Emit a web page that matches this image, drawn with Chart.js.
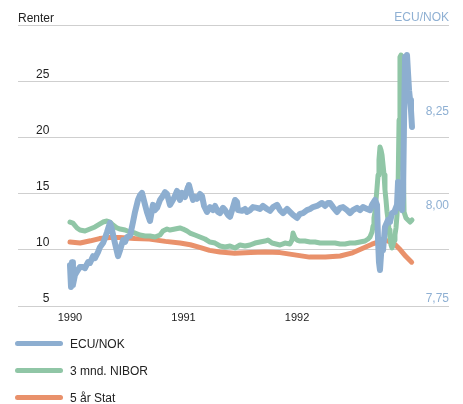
<!DOCTYPE html>
<html>
<head>
    <meta charset="utf-8">
    <title>Renter og ECU/NOK</title>
    <script src="https://cdn.jsdelivr.net/npm/chart.js@4.4.1/dist/chart.umd.min.js"></script>
    <style>
        body { margin: 0; background: #fff; font-family: 'Liberation Sans', Arial, sans-serif; }
        #wrap { position: relative; width: 463px; height: 404px; }
        #chart { position: absolute; left: 0; top: 0; }
        .axisTitle { position: absolute; font-size: 12px; line-height: 14px; }
        #leftTitle { left: 18px; top: 11px; color: #222; }
        #rightTitle { right: 14px; top: 10px; color: #8fb0d3; }
        #legend { position: absolute; left: 15px; top: 330px; }
        .item { height: 27px; display: flex; align-items: center; font-size: 12px; color: #222; }
        .swatch { width: 48px; height: 5px; border-radius: 3px; margin-right: 7px; }
    </style>
</head>
<body>
<div id="wrap">
    <canvas id="chart" width="463" height="404"></canvas>
    <div class="axisTitle" id="leftTitle">Renter</div>
    <div class="axisTitle" id="rightTitle">ECU/NOK</div>
    <div id="legend"></div>
</div>
<script>
    // tick labels
    const yearTicks = [1990, 1991, 1992];
    const rateTicks = [5, 10, 15, 20, 25, 30];
    const ecuTicks = [7.75, 8.00, 8.25, 8.50];

    // ECU/NOK (right axis), x in decimal years
    const ecuYears = [
        1990.000, 1990.009, 1990.018, 1990.026, 1990.044, 1990.070, 1990.088, 1990.115, 1990.132, 1990.159,
        1990.176, 1990.203, 1990.220, 1990.247, 1990.264, 1990.291, 1990.308, 1990.326, 1990.352, 1990.370,
        1990.396, 1990.423, 1990.441, 1990.467, 1990.485, 1990.502, 1990.529, 1990.555, 1990.573, 1990.599,
        1990.617, 1990.634, 1990.661, 1990.678, 1990.705, 1990.731, 1990.749, 1990.767, 1990.793, 1990.819,
        1990.837, 1990.855, 1990.881, 1990.907, 1990.925, 1990.943, 1990.969, 1990.987, 1991.013, 1991.040,
        1991.048, 1991.066, 1991.084, 1991.101, 1991.119, 1991.145, 1991.163, 1991.181, 1991.207, 1991.233,
        1991.260, 1991.278, 1991.304, 1991.322, 1991.348, 1991.366, 1991.392, 1991.410, 1991.436, 1991.454,
        1991.471, 1991.480, 1991.515, 1991.542, 1991.559, 1991.586, 1991.612, 1991.648, 1991.674, 1991.700,
        1991.736, 1991.762, 1991.789, 1991.824, 1991.850, 1991.877, 1991.912, 1991.938, 1991.965, 1992.000,
        1992.026, 1992.053, 1992.088, 1992.115, 1992.141, 1992.176, 1992.203, 1992.220, 1992.247, 1992.273,
        1992.291, 1992.317, 1992.352, 1992.379, 1992.405, 1992.441, 1992.467, 1992.493, 1992.529, 1992.555,
        1992.581, 1992.617, 1992.643, 1992.661, 1992.687, 1992.705, 1992.714, 1992.722, 1992.731, 1992.740,
        1992.749, 1992.758, 1992.775, 1992.802, 1992.819, 1992.837, 1992.855, 1992.863, 1992.881, 1992.890,
        1992.899, 1992.907, 1992.925, 1992.934, 1992.943, 1992.952, 1992.960, 1992.969, 1992.978, 1992.987,
        1992.996, 1993.004, 1993.013
    ];
    const ecuValues = [
        7.859, 7.801, 7.867, 7.806, 7.833, 7.846, 7.854, 7.854, 7.851, 7.867,
        7.865, 7.883, 7.878, 7.894, 7.907, 7.918, 7.931, 7.947, 7.972, 7.953,
        7.918, 7.883, 7.899, 7.926, 7.921, 7.934, 7.937, 7.974, 8.001, 8.033,
        8.046, 8.052, 8.020, 8.001, 7.977, 8.020, 8.006, 8.012, 8.033, 8.044,
        8.054, 8.049, 8.020, 8.033, 8.044, 8.057, 8.033, 8.052, 8.041, 8.068,
        8.073, 8.052, 8.033, 8.041, 8.036, 8.049, 8.044, 8.017, 8.001, 8.014,
        8.006, 8.017, 8.001, 7.998, 8.012, 8.006, 7.993, 7.988, 8.014, 8.033,
        8.028, 8.006, 8.004, 8.009, 8.001, 8.006, 8.014, 8.012, 8.009, 8.017,
        8.009, 8.004, 8.014, 8.020, 8.006, 7.998, 8.009, 8.001, 7.993, 7.985,
        7.996, 7.998, 8.006, 8.009, 8.014, 8.017, 8.022, 8.025, 8.017, 8.025,
        8.025, 8.014, 8.001, 8.012, 8.014, 8.006, 7.998, 8.006, 8.012, 8.006,
        8.014, 8.009, 8.006, 8.020, 8.033, 8.020, 7.926, 7.867, 7.846, 7.886,
        7.926, 7.899, 7.961, 7.980, 7.974, 7.998, 8.001, 8.006, 8.020, 8.081,
        8.012, 8.033, 8.006, 8.044, 8.246, 8.415, 8.380, 8.420, 8.372, 8.326,
        8.300, 8.273, 8.228
    ];

    // 3 mnd. NIBOR (left axis)
    const niborYears = [
        1990.000, 1990.026, 1990.062, 1990.088, 1990.132, 1990.176, 1990.220, 1990.264, 1990.291, 1990.326,
        1990.352, 1990.379, 1990.414, 1990.441, 1990.485, 1990.529, 1990.573, 1990.617, 1990.661, 1990.705,
        1990.749, 1990.793, 1990.819, 1990.855, 1990.881, 1990.925, 1990.969, 1990.996, 1991.031, 1991.057,
        1991.101, 1991.145, 1991.189, 1991.233, 1991.278, 1991.322, 1991.366, 1991.410, 1991.454, 1991.498,
        1991.542, 1991.586, 1991.630, 1991.674, 1991.718, 1991.744, 1991.780, 1991.815, 1991.850, 1991.894,
        1991.938, 1991.956, 1991.965, 1991.982, 1992.000, 1992.026, 1992.070, 1992.115, 1992.159, 1992.203,
        1992.247, 1992.291, 1992.335, 1992.379, 1992.423, 1992.467, 1992.511, 1992.555, 1992.599, 1992.626,
        1992.643, 1992.661, 1992.670, 1992.678, 1992.687, 1992.696, 1992.705, 1992.714, 1992.722, 1992.731,
        1992.740, 1992.749, 1992.758, 1992.767, 1992.775, 1992.784, 1992.793, 1992.802, 1992.811, 1992.819,
        1992.828, 1992.837, 1992.846, 1992.855, 1992.863, 1992.872, 1992.881, 1992.890, 1992.899, 1992.907,
        1992.916, 1992.925, 1992.934, 1992.943, 1992.960, 1992.978, 1992.996, 1993.013
    ];
    const niborValues = [
        12.47, 12.38, 11.94, 11.76, 11.67, 11.85, 12.03, 12.30, 12.47, 12.56,
        12.47, 12.21, 11.94, 11.85, 11.76, 11.58, 11.49, 11.32, 11.23, 11.23,
        11.14, 11.32, 11.67, 11.85, 11.76, 11.85, 11.94, 11.85, 11.67, 11.49,
        11.32, 11.14, 10.96, 10.69, 10.60, 10.34, 10.25, 10.34, 10.16, 10.43,
        10.34, 10.43, 10.60, 10.69, 10.78, 10.87, 10.60, 10.52, 10.43, 10.60,
        10.52, 10.87, 11.49, 11.05, 10.87, 10.78, 10.78, 10.69, 10.69, 10.60,
        10.60, 10.60, 10.60, 10.52, 10.52, 10.60, 10.60, 10.69, 10.78, 10.96,
        11.14, 11.58, 12.12, 12.83, 13.36, 14.43, 15.50, 16.65, 17.99, 19.15,
        18.88, 18.43, 17.54, 16.65, 15.32, 14.43, 13.36, 12.65, 11.76, 11.05,
        10.43, 10.16, 10.43, 10.87, 11.32, 11.94, 13.10, 15.32, 21.55, 27.15,
        27.33, 26.71, 18.88, 13.36, 12.83, 12.65, 12.47, 12.65
    ];

    // 5 år Stat (left axis)
    const statYears = [
        1990.00, 1990.09, 1990.18, 1990.26, 1990.35, 1990.44, 1990.57, 1990.70, 1990.84, 1990.97,
        1991.06, 1991.15, 1991.23, 1991.32, 1991.45, 1991.59, 1991.72, 1991.85, 1991.98, 1992.11,
        1992.25, 1992.38, 1992.48, 1992.57, 1992.66, 1992.73, 1992.78, 1992.85, 1992.91, 1992.96,
        1993.01
    ];
    const statValues = [
        10.7, 10.6, 10.8, 11.0, 11.1, 11.1, 11.0, 10.95, 10.75, 10.6,
        10.45, 10.2, 9.95, 9.8, 9.7, 9.75, 9.8, 9.75, 9.55, 9.35,
        9.35, 9.45, 9.7, 10.1, 10.5, 10.75, 10.85, 10.6, 10.0, 9.4,
        8.9
    ];

    const toPoints = (xs, ys) => xs.map((x, i) => ({ x: x, y: ys[i] }));

    const datasets = [
        { label: 'ECU/NOK', data: toPoints(ecuYears, ecuValues), borderColor: '#8daed0', borderWidth: 6, yAxisID: 'y1' },
        { label: '3 mnd. NIBOR', data: toPoints(niborYears, niborValues), borderColor: '#90c6a6', borderWidth: 5, yAxisID: 'y' },
        { label: '5 år Stat', data: toPoints(statYears, statValues), borderColor: '#e9916b', borderWidth: 5, yAxisID: 'y' }
    ];

    const font = 'Liberation Sans, Arial, sans-serif';
    const flatAxis = (s) => { s.width = 0; s.paddingTop = 0; s.paddingBottom = 0; };

    const chart = new Chart(document.getElementById('chart'), {
        type: 'line',
        data: { datasets: datasets },
        options: {
            responsive: false,
            animation: false,
            layout: { padding: { left: 18, right: 14, top: 25, bottom: 78 } },
            elements: {
                point: { radius: 0 },
                line: { tension: 0, borderCapStyle: 'round', borderJoinStyle: 'round' }
            },
            plugins: { legend: { display: false }, tooltip: { enabled: false } },
            scales: {
                x: {
                    type: 'linear',
                    min: 1989.542,
                    max: 1993.339,
                    grid: { display: false, drawTicks: false },
                    border: { display: false },
                    afterBuildTicks: (s) => { s.ticks = yearTicks.map(v => ({ value: v })); },
                    afterFit: (s) => { s.height = 20; s.paddingLeft = 0; s.paddingRight = 0; },
                    ticks: {
                        padding: 5, maxRotation: 0, autoSkip: false, color: '#222',
                        font: { family: font, size: 11 },
                        callback: (v) => String(v)
                    }
                },
                y: {
                    position: 'left',
                    min: 5,
                    max: 30,
                    grid: { color: '#cfcfcf', lineWidth: 1, drawTicks: false },
                    border: { display: false },
                    afterBuildTicks: (s) => { s.ticks = rateTicks.map(v => ({ value: v })); },
                    afterFit: flatAxis,
                    ticks: {
                        mirror: true, crossAlign: 'far', padding: 18, labelOffset: -7, color: '#222',
                        font: { family: font, size: 12 },
                        callback: (v) => v === 30 ? '' : String(v)
                    }
                },
                y1: {
                    position: 'right',
                    min: 7.75,
                    max: 8.5,
                    grid: { display: false, drawTicks: false },
                    border: { display: false },
                    afterBuildTicks: (s) => { s.ticks = ecuTicks.map(v => ({ value: v })); },
                    afterFit: flatAxis,
                    ticks: {
                        mirror: true, padding: 0, labelOffset: -7, color: '#8fb0d3',
                        font: { family: font, size: 12 },
                        callback: (v) => v === 8.5 ? '' : v.toFixed(2).replace('.', ',')
                    }
                }
            }
        }
    });

    // html legend, one row per series
    const legend = document.getElementById('legend');
    chart.data.datasets.forEach(ds => {
        const row = document.createElement('div');
        row.className = 'item';
        const sw = document.createElement('span');
        sw.className = 'swatch';
        sw.style.background = ds.borderColor;
        const txt = document.createElement('span');
        txt.textContent = ds.label;
        row.appendChild(sw);
        row.appendChild(txt);
        legend.appendChild(row);
    });
</script>
</body>
</html>
